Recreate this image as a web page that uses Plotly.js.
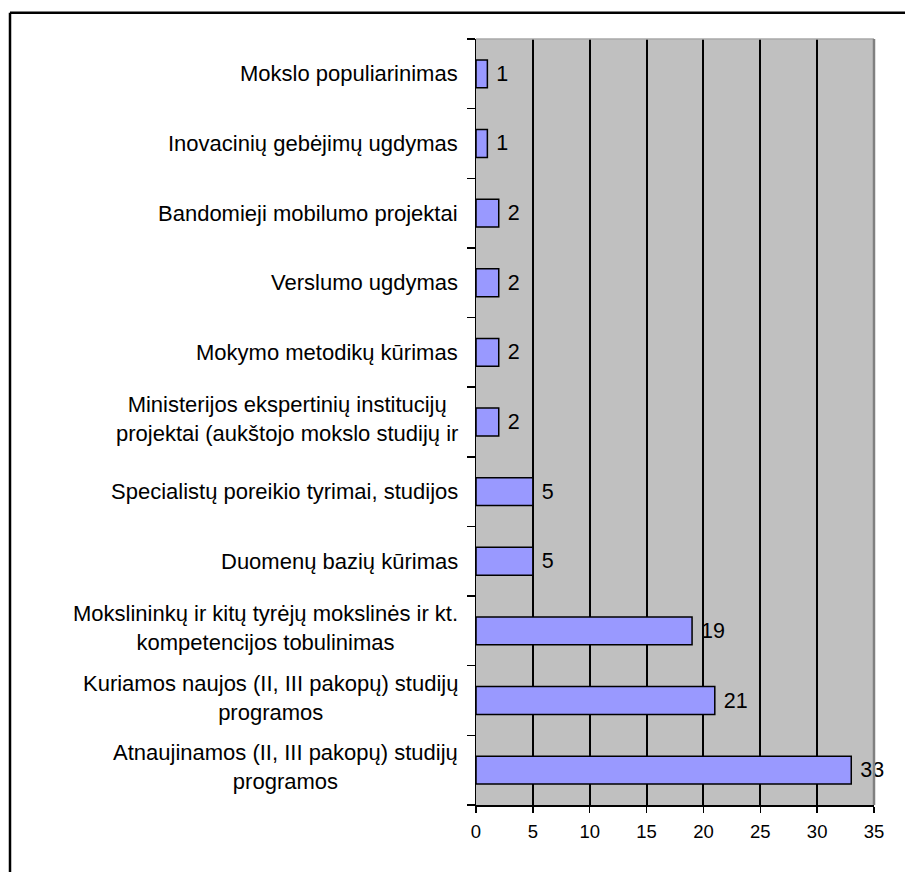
<!DOCTYPE html>
<html>
<head>
<meta charset="utf-8">
<script src="https://cdn.plot.ly/plotly-3.0.1.min.js"></script>
<style>html,body{margin:0;padding:0;background:#fff;}#chart{width:905px;height:872px;}</style>
</head>
<body>
<div id="chart"></div>
<script>
// Categories listed bottom to top
const categories = [
  "Atnaujinamos (II, III pakopų) studijų<br>programos",
  "Kuriamos naujos (II, III pakopų) studijų<br>programos",
  "Mokslininkų ir kitų tyrėjų mokslinės ir kt.<br>kompetencijos tobulinimas",
  "Duomenų bazių kūrimas",
  "Specialistų poreikio tyrimai, studijos",
  "Ministerijos ekspertinių institucijų<br>projektai (aukštojo mokslo studijų ir",
  "Mokymo metodikų kūrimas",
  "Verslumo ugdymas",
  "Bandomieji mobilumo projektai",
  "Inovacinių gebėjimų ugdymas",
  "Mokslo populiarinimas"
];
const values = [33, 21, 19, 5, 5, 2, 2, 2, 2, 1, 1];
const xTickVals = [0, 5, 10, 15, 20, 25, 30, 35];

const W = 905, H = 872;
const mL = 476, mR = 31, mT = 39, mB = 67;
const pw = W - mL - mR, ph = H - mT - mB;
const FONT = "Liberation Sans, Arial, sans-serif";

// convert pixel to paper coords
const px = x => (x - mL) / pw;
const py = y => 1 - (y - mT) / ph;

const trace = {
  type: 'bar',
  orientation: 'h',
  y: categories,
  x: values,
  text: values.map(v => String(v)),
  textposition: 'outside',
  texttemplate: ' %{text}',
  cliponaxis: false,
  constraintext: 'none',
  textfont: {family: FONT, size: 21.5, color: '#000'},
  marker: {color: '#9999FF', line: {color: '#000', width: 1.5}},
  hoverinfo: 'none'
};

const annotations = categories.map(c => ({
  xref: 'paper', yref: 'y', x: 0, y: c,
  text: c, showarrow: false,
  xanchor: 'right', yanchor: 'middle', align: 'center',
  xshift: -16,
  yshift: c.indexOf('<br>') >= 0 ? 3 : 0,
  font: {family: FONT, size: 22, color: '#000'}
}));

const shapes = [
  // outer frame (left and top)
  {type: 'line', xref: 'paper', yref: 'paper', x0: px(10), x1: px(920), y0: py(12.7), y1: py(12.7), line: {color: '#000', width: 2.5}},
  {type: 'line', xref: 'paper', yref: 'paper', x0: px(10), x1: px(10), y0: py(12.7), y1: py(890), line: {color: '#000', width: 2.5}},
  // plot area top and right border
  {type: 'line', xref: 'paper', yref: 'paper', x0: 0, x1: 1, y0: 1, y1: 1, line: {color: '#a8a8a8', width: 1.5}},
  {type: 'line', xref: 'paper', yref: 'paper', x0: 1, x1: 1, y0: 0, y1: 1, line: {color: '#808080', width: 2.5}}
];

const layout = {
  width: W, height: H,
  margin: {l: mL, r: mR, t: mT, b: mB, pad: 0},
  paper_bgcolor: '#fff',
  plot_bgcolor: '#C0C0C0',
  showlegend: false,
  bargap: 0.6,
  font: {family: FONT, color: '#000'},
  xaxis: {
    range: [0, 35], tickvals: xTickVals, ticktext: xTickVals.map(String),
    showgrid: true, gridcolor: '#000', gridwidth: 2,
    zeroline: false, showline: true, linecolor: '#000', linewidth: 1.5,
    ticks: 'outside', ticklen: 6, tickwidth: 1.5, tickcolor: '#000',
    ticklabelstandoff: 3,
    tickfont: {family: FONT, size: 18.5, color: '#000'},
    fixedrange: true
  },
  yaxis: {
    type: 'category', categoryorder: 'array', categoryarray: categories,
    showticklabels: false, showgrid: false, zeroline: false,
    showline: true, linecolor: '#000', linewidth: 1.5,
    ticks: 'outside', tickson: 'boundaries', ticklen: 8, tickwidth: 1.5, tickcolor: '#000',
    fixedrange: true
  },
  annotations: annotations,
  shapes: shapes
};

Plotly.newPlot('chart', [trace], layout, {displayModeBar: false, staticPlot: true});
</script>
</body>
</html>
